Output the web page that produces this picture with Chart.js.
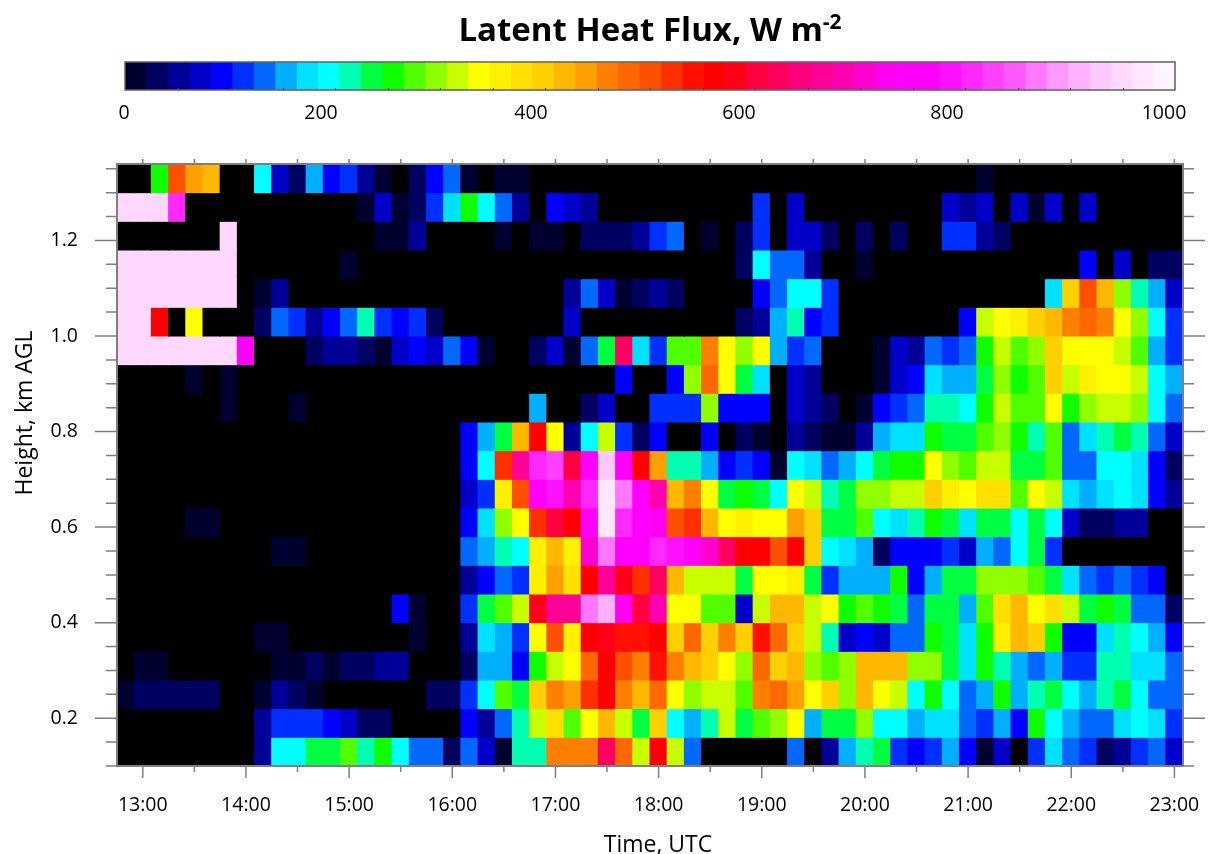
<!DOCTYPE html>
<html>
<head>
<meta charset="utf-8">
<title>Latent Heat Flux</title>
<script src="https://cdn.jsdelivr.net/npm/chart.js@4"></script>
<style>
    html, body { margin: 0; padding: 0; background: #fff; overflow: hidden; }
    #page { position: relative; width: 1208px; height: 854px; font-family: "Open Sans", sans-serif; color: #000; }
    #title { position: absolute; left: 0; top: 6px; width: 1300px; text-align: center; font-weight: bold; font-size: 33px; }
    #title sup { font-size: 21px; line-height: 0; }
    #xTitle { position: absolute; left: 558px; top: 827px; width: 200px; text-align: center; font-size: 23px; line-height: 32px; }
    #yTitle { position: absolute; left: -77px; top: 397px; width: 200px; text-align: center; font-size: 23px; line-height: 32px; transform: rotate(-90deg); }
    #heatCanvas { position: absolute; left: 0; top: 0; }
    #barCanvas { position: absolute; left: 0; top: 0; }
</style>
</head>
<body>
<div id="page">
    <canvas id="heatCanvas" width="1208" height="854"></canvas>
    <canvas id="barCanvas" width="1208" height="135"></canvas>
    <div id="title">Latent Heat Flux, W m<sup>-2</sup></div>
    <div id="xTitle">Time, UTC</div>
    <div id="yTitle">Height, km AGL</div>
</div>
<script>
const _ = null;

// centre of each column, minutes after midnight UTC
const timeSteps = [
    770, 780, 790, 800, 810, 820, 830, 840, 850, 860,
    870, 880, 890, 900, 910, 920, 930, 940, 950, 960,
    970, 980, 990, 1000, 1010, 1020, 1030, 1040, 1050, 1060,
    1070, 1080, 1090, 1100, 1110, 1120, 1130, 1140, 1150, 1160,
    1170, 1180, 1190, 1200, 1210, 1220, 1230, 1240, 1250, 1260,
    1270, 1280, 1290, 1300, 1310, 1320, 1330, 1340, 1350, 1360,
    1370, 1380
];

// centre of each row, km AGL, top row first
const heights = [1.33, 1.27, 1.21, 1.15, 1.09, 1.03, 0.97, 0.91, 0.85, 0.79, 0.73, 0.67, 0.61, 0.55, 0.49, 0.43, 0.37, 0.31, 0.25, 0.19, 0.13];

// flux values, W m-2. null = no data (black)
const h133 = [_,_,255,500,440,420,_,_,190,70, 30,150,90,110,50,10,_,30,90,130, 10,_,10,10,_,_,_,_,_,_, _,_,_,_,_,_,_,_,_,_, _,_,_,_,_,_,_,_,_,_, 10,_,_,_,_,_,_,_,_,_, _,_];
const h127 = [950,950,950,805,_,_,_,_,_,_, _,_,_,_,10,70,10,30,110,170, 255,190,130,50,_,90,70,50,_,_, _,_,_,_,_,_,_,110,_,70, _,_,_,_,_,_,_,_,70,50, 70,_,70,10,70,_,70,_,_,_, _,_];
const h121 = [_,_,_,_,_,_,950,_,_,_, _,_,_,_,_,10,10,50,_,_, _,_,10,_,10,10,_,30,30,30, 50,110,130,_,10,_,30,110,_,70, 70,30,_,30,_,30,_,_,110,110, 50,30,_,_,_,_,_,_,_,_, _,_];
const h115 = [950,950,950,950,950,950,950,_,_,_, _,_,_,10,_,_,_,_,_,_, _,_,_,_,_,_,_,_,_,_, _,_,_,_,_,_,30,190,130,130, 50,_,_,10,_,_,_,_,_,_, _,_,_,_,_,_,90,_,70,_, 30,30];
const h109 = [950,950,950,950,950,950,950,_,10,50, _,_,_,_,_,_,_,_,_,_, _,_,_,_,_,_,50,130,70,10, 30,50,30,_,_,_,_,90,130,190, 190,110,_,_,_,_,_,_,_,_, _,_,_,_,170,400,500,420,295,215, 150,70];
const h103 = [950,950,560,_,335,_,_,_,30,130, 110,50,90,130,215,110,90,110,30,_, _,_,_,_,_,_,70,_,_,_, _,_,_,_,_,_,30,50,150,215, 90,110,_,_,_,_,_,_,_,90, 315,335,355,400,420,460,480,460,335,295, 190,110];
const h097 = [950,950,950,950,950,950,950,745,_,_, _,30,50,50,30,10,70,90,70,130, 90,10,_,_,30,70,10,130,235,620, 170,110,275,275,460,335,295,335,150,110, 130,_,_,_,10,70,50,130,110,130, 255,315,275,295,400,335,335,335,315,275, 150,110];
const h091 = [_,_,_,_,10,_,10,_,_,_, _,_,_,_,_,_,_,_,_,_, _,_,_,_,_,_,_,_,_,90, _,_,90,295,480,335,235,170,_,70, 50,_,_,_,10,70,90,170,150,150, 235,295,255,275,400,315,355,335,335,315, 190,150];
const h085 = [_,_,_,_,_,_,10,_,_,_, 10,_,_,_,_,_,_,_,_,_, _,_,_,_,150,_,_,30,70,_, _,110,110,110,295,90,90,90,_,70, 50,30,_,10,90,110,130,215,215,190, 255,315,275,275,335,255,295,315,315,295, 190,130];
const h079 = [_,_,_,_,_,_,_,_,_,_, _,_,_,_,_,_,_,_,_,_, 90,150,235,420,560,335,50,190,315,110, 30,90,_,_,90,_,30,10,_,50, 30,10,10,50,150,170,170,255,235,235, 275,295,255,215,275,130,170,215,235,215, 130,70];
const h073 = [_,_,_,_,_,_,_,_,_,_, _,_,_,_,_,_,_,_,_,_, 90,190,520,665,805,825,600,745,930,765, 560,440,215,215,150,90,110,90,10,190, 170,130,150,190,235,255,255,335,295,275, 315,315,235,235,275,130,130,190,190,170, 90,30];
const h067 = [_,_,_,_,_,_,_,_,_,_, _,_,_,_,_,_,_,_,_,_, 70,110,355,500,745,785,685,805,970,870, 765,685,420,460,335,235,255,235,190,335, 315,215,235,295,295,315,315,400,355,335, 375,375,275,335,315,170,150,170,190,170, 90,50];
const h061 = [_,_,_,_,10,10,_,_,_,_, _,_,_,_,_,_,_,_,_,_, 90,170,295,335,520,600,560,765,970,805, 765,725,500,520,420,335,355,335,335,440, 400,235,235,275,190,170,215,255,235,170, 235,235,190,235,190,70,30,30,50,50, _,_];
const h055 = [_,_,_,_,_,_,_,_,_,10, 10,_,_,_,_,_,_,_,_,_, 130,150,215,190,355,420,355,705,870,745, 745,805,785,765,705,620,560,560,500,560, 400,190,170,150,30,90,90,90,110,70, 150,130,190,235,110,_,_,_,_,_, _,_];
const h049 = [_,_,_,_,_,_,_,_,_,_, _,_,_,_,_,_,_,_,_,_, 50,90,130,110,355,440,375,560,665,580, 520,620,420,315,315,315,235,335,335,355, 235,110,150,150,150,255,90,150,235,235, 295,295,295,275,235,170,130,110,130,110, 90,_];
const h043 = [_,_,_,_,_,_,_,_,_,_, _,_,_,_,_,_,90,10,_,_, 110,235,275,315,580,665,665,870,910,725, 600,685,335,335,275,275,70,315,420,420, 315,335,255,275,255,235,130,235,235,150, 275,375,420,335,375,315,235,255,235,130, 130,30];
const h037 = [_,_,_,_,_,_,_,_,10,10, _,_,_,_,_,_,_,10,_,_, 50,170,150,110,335,500,355,560,580,540, 540,560,400,480,400,460,400,540,480,400, 315,215,70,90,70,130,130,255,235,170, 255,355,420,400,255,90,90,170,215,190, 150,90];
const h031 = [_,10,10,_,_,_,_,_,_,10, 10,30,10,30,30,50,50,_,_,_, 30,150,150,90,255,315,335,480,560,500, 460,540,460,420,400,335,295,480,400,420, 295,275,295,420,420,420,295,295,235,170, 255,215,150,130,150,110,110,215,215,170, 170,130];
const h025 = [10,30,30,30,30,30,_,_,10,50, 30,10,_,_,_,_,_,_,30,30, 110,190,275,235,400,460,440,520,560,460, 420,480,335,295,315,315,275,460,480,440, 335,400,295,420,335,315,190,255,190,130, 150,255,150,215,235,190,150,215,235,190, 130,130];
const h019 = [_,_,_,_,_,_,_,_,50,110, 110,110,90,70,30,30,_,_,_,_, 90,50,130,215,315,375,275,335,420,315, 235,400,190,150,215,315,235,275,295,335, 150,235,235,295,190,190,150,170,170,130, 110,150,90,255,190,150,130,130,170,190, 170,110];
const h013 = [_,_,_,_,_,_,_,_,50,190, 190,235,235,275,215,255,190,130,130,30, 130,70,10,215,215,460,460,460,620,480, 315,560,315,130,_,_,_,_,_,130, _,50,150,215,235,110,90,110,150,90, 10,70,_,110,170,130,110,30,50,110, 130,70];

const rows = [h133, h127, h121, h115, h109, h103, h097, h091, h085, h079, h073, h067, h061, h055, h049, h043, h037, h031, h025, h019, h013];

const barColors = [
    '#000030', '#000060', '#000098', '#0000c8', '#0000ff', '#0030ff', '#0068ff', '#00b0ff', '#00e0ff', '#00ffff',
    '#00ffb0', '#00ff40', '#10ff00', '#50ff00', '#90ff00', '#c8ff00', '#ffff00', '#fff000', '#ffe000', '#ffd000',
    '#ffb800', '#ffa000', '#ff8000', '#ff6800', '#ff5000', '#ff3000', '#ff1000', '#ff0000', '#ff0018', '#ff0040',
    '#ff0060', '#ff0080', '#ff0098', '#ff00b0', '#ff00d0', '#ff00f0', '#ff00ff', '#ff00ff', '#ff10ff', '#ff28ff',
    '#ff40ff', '#ff58ff', '#ff78ff', '#ff98ff', '#ffb0ff', '#ffc8ff', '#ffd8ff', '#ffe8ff', '#fff4ff'
];

const barMax = 1000;
const barTicks = [0, 200, 400, 600, 800, 1000];
// the labels sit a bit left of their tick marks in the original
const barTickShift = [-1, -14, -14, -16, -18, -11];
const rowHalf = 0.03;
const tickFont = { family: '"Open Sans", sans-serif', size: 19.5 };

function colorFor(v) {
    if (v === null || v === undefined) return '#000000';
    const i = Math.min(barColors.length - 1, Math.floor(v / barMax * barColors.length));
    return barColors[i];
}

function isHour(v) {
    return Math.round(v) % 60 === 0;
}

function isMajorHeight(v) {
    return Math.round(v * 100) % 20 === 0;
}

// black under the cells, then frame and tick marks outward on all four sides
const frameTicks = {
    id: 'frameTicks',
    beforeDatasetsDraw(chart) {
        const a = chart.chartArea;
        chart.ctx.save();
        chart.ctx.fillStyle = '#000';
        chart.ctx.fillRect(a.left, a.top, a.right - a.left, a.bottom - a.top);
        chart.ctx.restore();
    },
    afterDraw(chart) {
        const ctx = chart.ctx;
        const a = chart.chartArea;
        const x = chart.scales.x;
        const y = chart.scales.y;
        ctx.save();
        ctx.strokeStyle = '#7f7f7f';
        ctx.lineWidth = 1.5;
        ctx.beginPath();
        x.ticks.forEach(t => {
            const px = x.getPixelForValue(t.value);
            ctx.moveTo(px, a.bottom);
            ctx.lineTo(px, a.bottom + (isHour(t.value) ? 12 : 6));
            ctx.moveTo(px, a.top);
            ctx.lineTo(px, a.top - 5);
        });
        y.ticks.forEach(t => {
            const py = y.getPixelForValue(t.value);
            const len = isMajorHeight(t.value) ? 22 : 11;
            ctx.moveTo(a.left, py);
            ctx.lineTo(a.left - len, py);
            ctx.moveTo(a.right, py);
            ctx.lineTo(a.right + len, py);
        });
        ctx.stroke();
        ctx.lineWidth = 2;
        ctx.strokeRect(a.left, a.top, a.right - a.left, a.bottom - a.top);
        ctx.restore();
    }
};

const barFrame = {
    id: 'barFrame',
    afterDraw(chart) {
        const ctx = chart.ctx;
        const a = chart.chartArea;
        const x = chart.scales.x;
        ctx.save();
        ctx.strokeStyle = '#606060';
        ctx.lineWidth = 1.5;
        ctx.strokeRect(a.left, a.top, a.right - a.left, a.bottom - a.top);

        ctx.lineWidth = 1;
        ctx.strokeStyle = '#404040';
        ctx.beginPath();
        for (let v = 50; v < barMax; v += 50) {
            const px = Math.round(x.getPixelForValue(v)) + 0.5;
            ctx.moveTo(px, a.bottom);
            ctx.lineTo(px, a.bottom - 2);
        }
        ctx.stroke();

        ctx.fillStyle = '#000';
        ctx.font = tickFont.size + 'px ' + tickFont.family;
        ctx.textAlign = 'center';
        ctx.textBaseline = 'middle';
        barTicks.forEach((v, i) => {
            ctx.fillText(String(v), x.getPixelForValue(v) + barTickShift[i], 113);
        });
        ctx.restore();
    }
};

function createHeatChart() {
    const datasets = rows.map((row, r) => ({
        label: heights[r].toFixed(2) + ' km',
        data: row.map((v, c) => ({
            x: timeSteps[c],
            y: [heights[r] - rowHalf, heights[r] + rowHalf],
            v: v
        })),
        backgroundColor: ctx => colorFor(ctx.raw ? ctx.raw.v : null),
        borderWidth: 0,
        inflateAmount: 0.5,
        barPercentage: 1,
        categoryPercentage: 1,
        grouped: false
    }));

    new Chart(document.getElementById('heatCanvas'), {
        type: 'bar',
        data: { datasets: datasets },
        plugins: [frameTicks],
        options: {
            responsive: false,
            animation: false,
            events: [],
            layout: { padding: { left: 0, right: 25, top: 164, bottom: 0 } },
            plugins: { legend: { display: false }, tooltip: { enabled: false } },
            scales: {
                x: {
                    type: 'linear',
                    offset: false,
                    min: 765,
                    max: 1385,
                    afterFit: s => { s.height = 88; s.paddingLeft = 0; s.paddingRight = 0; },
                    grid: { display: false },
                    border: { display: false },
                    ticks: {
                        stepSize: 30,
                        includeBounds: false,
                        autoSkip: false,
                        maxRotation: 0,
                        padding: 20,
                        color: '#000',
                        font: tickFont,
                        callback: v => isHour(v) ? (v / 60) + ':00' : ''
                    }
                },
                y: {
                    type: 'linear',
                    min: 0.1,
                    max: 1.36,
                    afterFit: s => { s.width = 117; s.paddingTop = 0; s.paddingBottom = 0; },
                    grid: { display: false },
                    border: { display: false },
                    ticks: {
                        stepSize: 0.05,
                        includeBounds: false,
                        autoSkip: false,
                        padding: 31,
                        color: '#000',
                        font: tickFont,
                        callback: v => isMajorHeight(v) ? v.toFixed(1) : ''
                    }
                }
            }
        }
    });
}

function createColorBar() {
    const binWidth = barMax / barColors.length;
    new Chart(document.getElementById('barCanvas'), {
        type: 'bar',
        data: {
            labels: ['flux'],
            datasets: barColors.map(c => ({
                data: [binWidth],
                backgroundColor: c,
                borderWidth: 0,
                barPercentage: 1,
                categoryPercentage: 1
            }))
        },
        plugins: [barFrame],
        options: {
            indexAxis: 'y',
            responsive: false,
            animation: false,
            events: [],
            layout: { padding: { left: 125, right: 33, top: 62, bottom: 0 } },
            plugins: { legend: { display: false }, tooltip: { enabled: false } },
            scales: {
                x: {
                    stacked: true,
                    min: 0,
                    max: barMax,
                    afterFit: s => { s.height = 45; },
                    grid: { display: false },
                    border: { display: false },
                    ticks: { display: false, stepSize: 200 }
                },
                y: { stacked: true, display: false }
            }
        }
    });
}

createHeatChart();
createColorBar();
</script>
</body>
</html>
